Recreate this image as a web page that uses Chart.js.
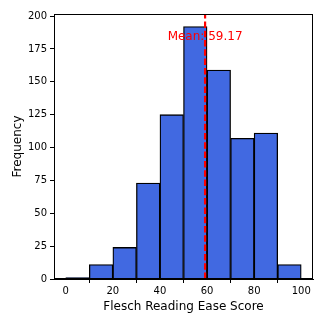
<!DOCTYPE html>
<html>
<head>
<meta charset="utf-8">
<script src="https://cdn.jsdelivr.net/npm/chart.js@4"></script>
<style>
html,body{margin:0;padding:0;background:#fff;}
#wrap{width:324px;height:324px;}
</style>
</head>
<body>
<div id="wrap"><canvas id="c" width="324" height="324"></canvas></div>
<script>
const binStarts = [0, 10, 20, 30, 40, 50, 60, 70, 80, 90];
const binWidth = 10;
const counts = [1, 11, 24, 73, 125, 192, 159, 107, 111, 11];
const meanValue = 59.17;
const meanLabel = "Mean: 59.17";
const xTicks = [0, 20, 40, 60, 80, 100];
const yTicks = [0, 25, 50, 75, 100, 125, 150, 175, 200];
const xLabel = "Flesch Reading Ease Score";
const yLabel = "Frequency";

const xMin = -5, xMax = 105;
const yMax = Math.max(...counts) * 1.05;

const histData = binStarts.map((s, i) => ({x: s + binWidth / 2, y: counts[i]}));

const FONT = "'DejaVu Sans', sans-serif";

const framePlugin = {
  id: 'frame',
  afterDatasetsDraw(chart) {
    const {ctx, chartArea: a, scales} = chart;
    ctx.save();
    ctx.fillStyle = 'red';
    ctx.font = "12px 'DejaVu Sans'";
    ctx.textAlign = 'center';
    ctx.textBaseline = 'alphabetic';
    ctx.fillText(meanLabel, scales.x.getPixelForValue(meanValue), scales.y.getPixelForValue(182));
    ctx.strokeStyle = '#000';
    ctx.lineWidth = 1;
    ctx.strokeRect(Math.round(a.left) + 0.5, Math.round(a.top) + 0.5, Math.round(a.right - a.left) - 1, Math.round(a.bottom - a.top) - 1);
    ctx.restore();
  }
};

new Chart(document.getElementById('c'), {
  data: {
    datasets: [
      {
        type: 'line',
        data: [{x: meanValue, y: 0}, {x: meanValue, y: yMax}],
        borderColor: '#ff0000',
        borderWidth: 2.2,
        borderDash: [6.5, 2.8],
        pointRadius: 0,
        fill: false,
        order: 0
      },
      {
        type: 'bar',
        data: histData,
        backgroundColor: '#4169E1',
        borderColor: '#000',
        borderWidth: 1.3,
        barPercentage: 1,
        categoryPercentage: 1,
        order: 1
      }
    ]
  },
  options: {
    responsive: false,
    animation: false,
    events: [],
    layout: {padding: {top: 14, right: 11, left: 0, bottom: 0}},
    plugins: {legend: {display: false}, tooltip: {enabled: false}},
    scales: {
      x: {
        type: 'linear',
        min: xMin,
        max: xMax,
        offset: false,
        afterBuildTicks: s => { s.ticks = xTicks.map(v => ({value: v})); },
        afterFit: s => { s.height = 45; },
        grid: {display: true, drawOnChartArea: false, drawTicks: true, tickLength: 4, tickColor: '#000'},
        border: {display: true, color: '#000', width: 1},
        ticks: {color: '#000', font: {family: FONT, size: 10}, padding: 2, maxRotation: 0},
        title: {display: true, text: xLabel, color: '#000', font: {family: FONT, size: 12}, padding: {top: 0, bottom: 10}}
      },
      y: {
        type: 'linear',
        min: 0,
        max: yMax,
        afterBuildTicks: s => { s.ticks = yTicks.map(v => ({value: v})); },
        afterFit: s => { s.width = 54; },
        grid: {display: true, drawOnChartArea: false, drawTicks: true, tickLength: 4, tickColor: '#000'},
        border: {display: true, color: '#000', width: 1},
        ticks: {color: '#000', font: {family: FONT, size: 10}, padding: 3},
        title: {display: true, text: yLabel, color: '#000', font: {family: FONT, size: 12}, padding: {top: 11, bottom: 0}}
      }
    }
  },
  plugins: [framePlugin]
});
</script>
</body>
</html>
